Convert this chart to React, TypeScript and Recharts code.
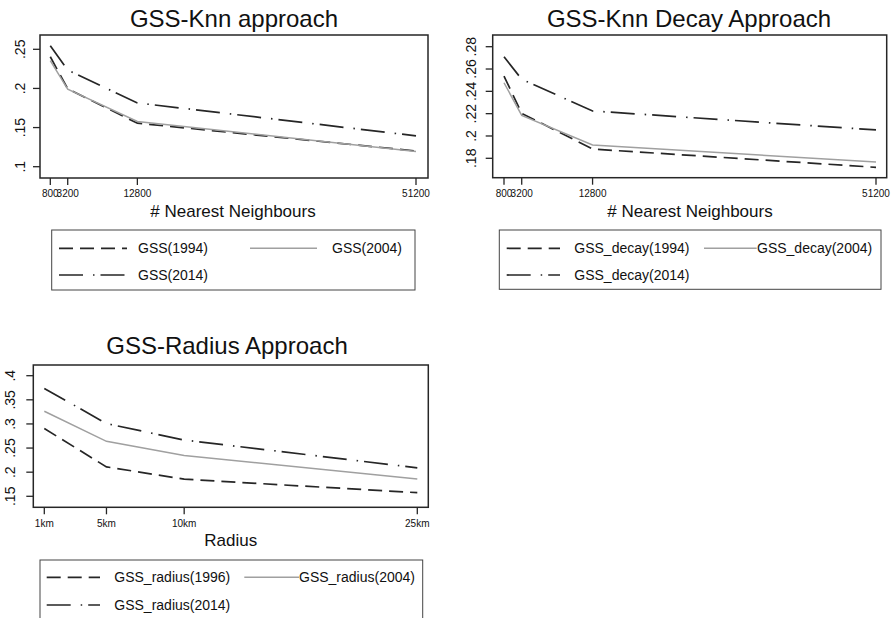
import React from 'react';
import { LineChart, Line, XAxis, YAxis } from 'recharts';

const FONT = '"Liberation Sans", Arial, Helvetica, sans-serif';
const INK = '#262626';
const GRAY = '#a0a0a0';
const DASH = '14 7';
const DASH_DOT = '24 10 1.5 6';

// GSS-Knn approach
const KNN_NEIGHBOURS = [800, 3200, 12800, 51200];
const KNN_GSS_1994 = [0.2405, 0.1995, 0.1556, 0.1201];
const KNN_GSS_2004 = [0.2354, 0.199, 0.1577, 0.1195];
const KNN_GSS_2014 = [0.2546, 0.2235, 0.1815, 0.1394];
const KNN_Y_TICKS = [0.1, 0.15, 0.2, 0.25];

// GSS-Knn Decay Approach
const DECAY_NEIGHBOURS = [800, 3200, 12800, 51200];
const DECAY_1994 = [0.2537, 0.2203, 0.1883, 0.1719];
const DECAY_2004 = [0.2477, 0.2185, 0.1919, 0.1767];
const DECAY_2014 = [0.271, 0.2508, 0.2224, 0.2054];
const DECAY_Y_TICKS = [0.18, 0.2, 0.22, 0.24, 0.26, 0.28];

// GSS-Radius Approach
const RADIUS_KM = [1, 5, 10, 25];
const RADIUS_1996 = [0.2905, 0.211, 0.1855, 0.1575];
const RADIUS_2004 = [0.3263, 0.264, 0.2348, 0.186];
const RADIUS_2014 = [0.3737, 0.3008, 0.2666, 0.209];
const RADIUS_Y_TICKS = [0.15, 0.2, 0.25, 0.3, 0.35, 0.4];

type SeriesDef = { name: string; values: number[]; color: string; width: number; dash?: string };

type PanelDef = {
  title: string;
  titleX: number;
  titleY: number;
  xTitle: string;
  xTitleX: number;
  xTitleY: number;
  xs: number[];
  series: SeriesDef[];
  yTicks: number[];
  xFormat: (v: number) => string;
  box: { left: number; top: number; width: number; height: number };
  plot: { left: number; right: number; top: number; bottom: number };
  xPad: { left: number; right: number };
  yPad: { top: number; bottom: number };
  yLabelGap: number;
  legend: { x1: number; y1: number; x2: number; y2: number; rows: number[]; cols: { l1: number; l2: number; tx: number }[] };
};

const yFormat = (v: number) => String(v).replace(/^0/, '');

const black = (name: string, values: number[], dash: string): SeriesDef => ({ name, values, color: INK, width: 1.7, dash });
const gray = (name: string, values: number[]): SeriesDef => ({ name, values, color: GRAY, width: 1.5 });

const PANELS: PanelDef[] = [
  {
    title: 'GSS-Knn approach',
    titleX: 234,
    titleY: 26.7,
    xTitle: '# Nearest Neighbours',
    xTitleX: 233,
    xTitleY: 217,
    xs: KNN_NEIGHBOURS,
    series: [
      black('GSS(1994)', KNN_GSS_1994, DASH),
      gray('GSS(2004)', KNN_GSS_2004),
      black('GSS(2014)', KNN_GSS_2014, DASH_DOT)
    ],
    yTicks: KNN_Y_TICKS,
    xFormat: (v) => String(v),
    box: { left: 0, top: 0, width: 440, height: 230 },
    plot: { left: 40, right: 428, top: 35, bottom: 178 },
    xPad: { left: 10.3, right: 12 },
    yPad: { top: 14.3, bottom: 11.3 },
    yLabelGap: 8,
    legend: {
      x1: 51.7, y1: 230, x2: 415, y2: 290,
      rows: [248.3, 275],
      cols: [{ l1: 59, l2: 127, tx: 138 }, { l1: 250, l2: 317, tx: 332 }]
    }
  },
  {
    title: 'GSS-Knn Decay Approach',
    titleX: 689,
    titleY: 26.7,
    xTitle: '# Nearest Neighbours',
    xTitleX: 690,
    xTitleY: 217,
    xs: DECAY_NEIGHBOURS,
    series: [
      black('GSS_decay(1994)', DECAY_1994, DASH),
      gray('GSS_decay(2004)', DECAY_2004),
      black('GSS_decay(2014)', DECAY_2014, DASH_DOT)
    ],
    yTicks: DECAY_Y_TICKS,
    xFormat: (v) => String(v),
    box: { left: 450, top: 0, width: 443, height: 230 },
    plot: { left: 492.7, right: 886.7, top: 35, bottom: 177.7 },
    xPad: { left: 11.3, right: 10.7 },
    yPad: { top: 11.7, bottom: 19.4 },
    yLabelGap: 9.7,
    legend: {
      x1: 499.3, y1: 230, x2: 881, y2: 289.3,
      rows: [248.3, 275],
      cols: [{ l1: 506.7, l2: 560, tx: 574.3 }, { l1: 704, l2: 756.7, tx: 757 }]
    }
  },
  {
    title: 'GSS-Radius Approach',
    titleX: 227,
    titleY: 354.3,
    xTitle: 'Radius',
    xTitleX: 230.7,
    xTitleY: 545.5,
    xs: RADIUS_KM,
    series: [
      black('GSS_radius(1996)', RADIUS_1996, DASH),
      gray('GSS_radius(2004)', RADIUS_2004),
      black('GSS_radius(2014)', RADIUS_2014, DASH_DOT)
    ],
    yTicks: RADIUS_Y_TICKS,
    xFormat: (v) => `${v}km`,
    box: { left: 0, top: 330, width: 440, height: 230 },
    plot: { left: 33.3, right: 428.3, top: 365, bottom: 507.3 },
    xPad: { left: 11, right: 11 },
    yPad: { top: 10.7, bottom: 11 },
    yLabelGap: 11,
    legend: {
      x1: 40, y1: 560, x2: 422.7, y2: 622,
      rows: [577.3, 605],
      cols: [{ l1: 46.7, l2: 100, tx: 114.3 }, { l1: 244.3, l2: 299, tx: 299 }]
    }
  }
];

const X_AXIS_H = 30;
const TICK = 7;

// stretch the tick range out to the frame edges (Stata leaves a gap round the data)
function paddedDomain(lo: number, hi: number, span: number, padLo: number, padHi: number): [number, number] {
  const perPx = (hi - lo) / (span - padLo - padHi);
  return [lo - padLo * perPx, hi + padHi * perPx];
}

function YTick(props: any) {
  const { x, y, payload, gap } = props;
  const bx = x - gap;
  return (
    <text x={bx} y={y} transform={`rotate(-90 ${bx} ${y})`} textAnchor="middle" fontSize={14} fontFamily={FONT} fill="#111">
      {yFormat(payload.value)}
    </text>
  );
}

function XTick(props: any) {
  const { x, y, payload, fmt } = props;
  return (
    <text x={x} y={y + 12.3} textAnchor="middle" fontSize={10} fontFamily={FONT} fill="#111">
      {fmt(payload.value)}
    </text>
  );
}

function PanelChart({ p }: { p: PanelDef }) {
  const data = p.xs.map((x, i) => {
    const row: Record<string, number> = { x };
    p.series.forEach((s, k) => {
      row[`s${k}`] = s.values[i];
    });
    return row;
  });
  const yAxisW = p.plot.left - p.box.left;
  const margin = {
    top: p.plot.top - p.box.top,
    right: p.box.left + p.box.width - p.plot.right,
    bottom: p.box.top + p.box.height - p.plot.bottom - X_AXIS_H,
    left: 0
  };
  const xDomain = paddedDomain(p.xs[0], p.xs[p.xs.length - 1], p.plot.right - p.plot.left, p.xPad.left, p.xPad.right);
  const yDomain = paddedDomain(p.yTicks[0], p.yTicks[p.yTicks.length - 1], p.plot.bottom - p.plot.top, p.yPad.bottom, p.yPad.top);
  return (
    <div style={{ position: 'absolute', left: p.box.left, top: p.box.top }}>
      <LineChart width={p.box.width} height={p.box.height} data={data} margin={margin} style={{ overflow: 'visible' }}>
        <XAxis
          dataKey="x"
          type="number"
          domain={xDomain}
          allowDataOverflow
          ticks={p.xs}
          height={X_AXIS_H}
          axisLine={false}
          tickSize={TICK}
          tickMargin={0}
          tickLine={{ stroke: INK, strokeWidth: 1.3 }}
          tick={(t: any) => <XTick {...t} fmt={p.xFormat} />}
          interval={0}
        />
        <YAxis
          type="number"
          domain={yDomain}
          allowDataOverflow
          ticks={p.yTicks}
          width={yAxisW}
          axisLine={false}
          tickSize={TICK}
          tickMargin={0}
          tickLine={{ stroke: INK, strokeWidth: 1.3 }}
          tick={(t: any) => <YTick {...t} gap={p.yLabelGap} />}
          interval={0}
        />
        {p.series.map((s, k) => (
          <Line
            key={s.name}
            type="linear"
            dataKey={`s${k}`}
            name={s.name}
            stroke={s.color}
            strokeWidth={s.width}
            strokeDasharray={s.dash}
            dot={false}
            isAnimationActive={false}
          />
        ))}
      </LineChart>
    </div>
  );
}

function Overlay() {
  return (
    <svg width={893} height={618} style={{ position: 'absolute', left: 0, top: 0, pointerEvents: 'none' }}>
      {PANELS.map((p) => {
        const lg = p.legend;
        return (
          <g key={p.title} fontFamily={FONT}>
            <rect
              x={p.plot.left}
              y={p.plot.top}
              width={p.plot.right - p.plot.left}
              height={p.plot.bottom - p.plot.top}
              fill="none"
              stroke={INK}
              strokeWidth={1.5}
            />
            <text x={p.titleX} y={p.titleY} textAnchor="middle" fontSize={24} fill="#111">
              {p.title}
            </text>
            <text x={p.xTitleX} y={p.xTitleY} textAnchor="middle" fontSize={17} fill="#111">
              {p.xTitle}
            </text>
            <rect x={lg.x1} y={lg.y1} width={lg.x2 - lg.x1} height={lg.y2 - lg.y1} fill="#fff" stroke="#444" strokeWidth={1} />
            {p.series.map((s, k) => {
              const row = lg.rows[Math.floor(k / 2)];
              const col = lg.cols[k % 2];
              return (
                <g key={s.name}>
                  <line
                    x1={col.l1}
                    x2={col.l2}
                    y1={row}
                    y2={row}
                    stroke={s.color}
                    strokeWidth={s.width}
                    strokeDasharray={s.dash}
                  />
                  <text x={col.tx} y={row + 5} fontSize={14} fill="#111">
                    {s.name}
                  </text>
                </g>
              );
            })}
          </g>
        );
      })}
    </svg>
  );
}

export default function App() {
  return (
    <div style={{ position: 'absolute', left: 0, top: 0, width: 893, height: 618, background: '#fff', overflow: 'hidden' }}>
      {PANELS.map((p) => (
        <PanelChart key={p.title} p={p} />
      ))}
      <Overlay />
    </div>
  );
}
